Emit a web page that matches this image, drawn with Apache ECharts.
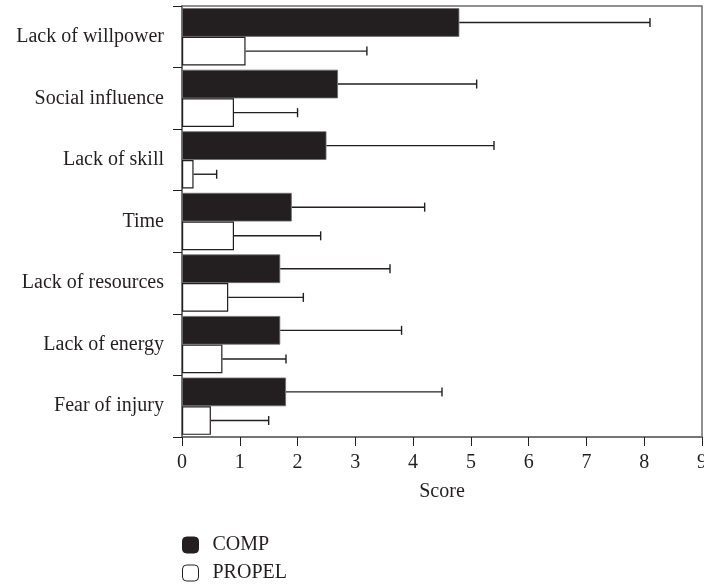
<!DOCTYPE html>
<html>
<head>
<meta charset="utf-8">
<script src="https://cdn.jsdelivr.net/npm/echarts@6/dist/echarts.min.js"></script>
<style>
html,body{margin:0;padding:0;background:#fff;}
#chart{width:704px;height:584px;}
</style>
</head>
<body>
<div id="chart"></div>
<script>
var categories = ['Lack of willpower','Social influence','Lack of skill','Time','Lack of resources','Lack of energy','Fear of injury'];
var compValues = [4.8, 2.7, 2.5, 1.9, 1.7, 1.7, 1.8];
var compUpper  = [8.1, 5.1, 5.4, 4.2, 3.6, 3.8, 4.5];
var propelValues = [1.1, 0.9, 0.2, 0.9, 0.8, 0.7, 0.5];
var propelUpper  = [3.2, 2.0, 0.6, 2.4, 2.1, 1.8, 1.5];
var xTicks = [0,1,2,3,4,5,6,7,8,9];

var DARK = '#231f20';
var AXIS = '#6d6e71';
var FONT = 'Liberation Serif';

function errData(vals, ups){
  return vals.map(function(v,i){ return [i, v, ups[i]]; });
}
function errSeries(name, vals, ups, sign){
  return {
    type: 'custom',
    name: name + ' err',
    encode: {x: [1,2], y: 0},
    data: errData(vals, ups),
    z: 3,
    silent: true,
    renderItem: function(params, api){
      var cat = api.value(0);
      var lo = api.coord([api.value(1), cat]);
      var hi = api.coord([api.value(2), cat]);
      var band = api.size([0,1])[1];
      var y = lo[1] + sign * band * 0.2325;
      var cap = 4.5;
      var st = {stroke: DARK, lineWidth: 1.4};
      return {
        type: 'group',
        children: [
          {type:'line', shape:{x1: lo[0], y1: y, x2: hi[0], y2: y}, style: st},
          {type:'line', shape:{x1: hi[0], y1: y-cap, x2: hi[0], y2: y+cap}, style: st}
        ]
      };
    }
  };
}

var chart = echarts.init(document.getElementById('chart'));
chart.setOption({
  animation: false,
  textStyle: {fontFamily: FONT, color: DARK},
  grid: {left: 182, right: 2, top: 6, bottom: 147, show: true, borderColor: AXIS, borderWidth: 1.5, containLabel: false, outerBoundsMode: 'none'},
  legend: {
    data: [
      {name: 'COMP', itemStyle: {color: DARK, borderColor: DARK, borderWidth: 1}},
      {name: 'PROPEL', itemStyle: {color: '#ffffff', borderColor: DARK, borderWidth: 1}}
    ],
    orient: 'vertical',
    left: 182,
    top: 535,
    padding: 0,
    icon: 'roundRect',
    itemWidth: 16,
    itemHeight: 16,
    itemGap: 8,
    textStyle: {fontFamily: FONT, fontSize: 20, lineHeight: 20, color: DARK, padding: [0,0,0,9]}
  },
  xAxis: {
    type: 'value',
    min: xTicks[0],
    max: xTicks[xTicks.length-1],
    interval: 1,
    name: 'Score',
    nameLocation: 'middle',
    nameGap: 45,
    nameTextStyle: {fontFamily: FONT, fontSize: 20, color: DARK},
    splitLine: {show: false},
    axisLine: {show: true, lineStyle: {color: AXIS, width: 1.5}},
    axisTick: {show: true, length: 9, lineStyle: {color: DARK, width: 1}},
    axisLabel: {fontFamily: FONT, fontSize: 20, color: DARK, margin: 16}
  },
  yAxis: {
    type: 'category',
    inverse: true,
    data: categories,
    axisLine: {show: true, lineStyle: {color: AXIS, width: 1.5}},
    axisTick: {show: true, length: 9, lineStyle: {color: DARK, width: 1}},
    axisLabel: {fontFamily: FONT, fontSize: 20, color: DARK, margin: 18}
  },
  series: [
    {
      type: 'bar', name: 'COMP', data: compValues,
      barGap: '0%', barCategoryGap: '7%',
      itemStyle: {color: DARK, borderColor: AXIS, borderWidth: 0.8},
      z: 2
    },
    {
      type: 'bar', name: 'PROPEL', data: propelValues,
      barGap: '0%', barCategoryGap: '7%',
      itemStyle: {color: '#ffffff', borderColor: DARK, borderWidth: 1.2},
      z: 2
    },
    errSeries('COMP', compValues, compUpper, -1),
    errSeries('PROPEL', propelValues, propelUpper, 1)
  ]
});
</script>
</body>
</html>
